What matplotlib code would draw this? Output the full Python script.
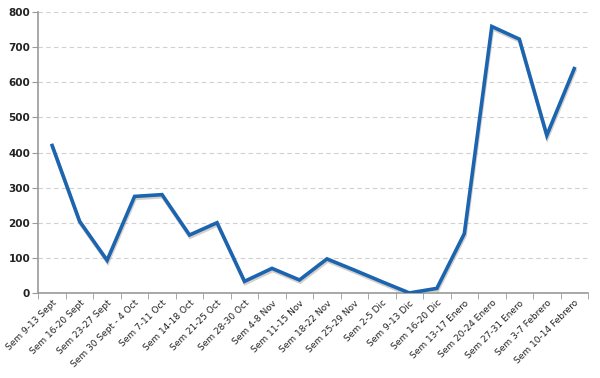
import matplotlib
matplotlib.use('Agg')
import matplotlib.pyplot as plt
import matplotlib.patheffects as pe
import numpy as np

semanas = ['Sem 9-13 Sept', 'Sem 16-20 Sept', 'Sem 23-27 Sept', 'Sem 30 Sept - 4 Oct',
           'Sem 7-11 Oct', 'Sem 14-18 Oct', 'Sem 21-25 Oct', 'Sem 28-30 Oct',
           'Sem 4-8 Nov', 'Sem 11-15 Nov', 'Sem 18-22 Nov', 'Sem 25-29 Nov',
           'Sem 2-5 Dic', 'Sem 9-13 Dic', 'Sem 16-20 Dic', 'Sem 13-17 Enero',
           'Sem 20-24 Enero', 'Sem 27-31 Enero', 'Sem 3-7 Febrero', 'Sem 10-14 Febrero']
valores = [420, 204, 93, 275, 280, 165, 200, 33, 70, 37, 97, 65, 32, 0, 13, 169,
           759, 723, 449, 639]
y_ticks = [0, 100, 200, 300, 400, 500, 600, 700, 800]

fig = plt.figure(figsize=(6, 3.78), dpi=100)
ax = fig.add_axes([0.064, 0.225, 0.916, 0.743])

x = np.arange(len(semanas))
ax.plot(x, valores, color='#1a64b0', linewidth=2.6, solid_joinstyle='miter',
        path_effects=[pe.SimpleLineShadow(offset=(0.5, -1.5), shadow_color='#b8b0a8', alpha=0.6),
                      pe.Normal()], zorder=3)

ax.set_xlim(-0.5, len(semanas) - 0.5)
ax.set_ylim(0, 800)
ax.set_yticks(y_ticks)
ax.set_yticklabels([str(v) for v in y_ticks], fontsize=7.5, fontweight='bold', color='#222222')
ax.yaxis.grid(True, linestyle=(0, (4, 3)), color='#d0d0d0', linewidth=0.8)
ax.set_axisbelow(True)

ax.set_xticks(x)
ax.set_xticklabels(semanas, rotation=45, ha='right', rotation_mode='anchor', fontsize=6.5,
                   color='#222222')
ax.tick_params(axis='x', length=0, pad=4)
ax.set_xticks(np.arange(-0.5, len(semanas), 1), minor=True)
ax.tick_params(axis='x', which='minor', length=4, direction='out', color='#999999')
ax.tick_params(axis='y', length=4, direction='out', color='#999999', pad=2)

for s in ['top', 'right']:
    ax.spines[s].set_visible(False)
for s in ['left', 'bottom']:
    ax.spines[s].set_color('#999999')
    ax.spines[s].set_linewidth(1.2)

fig.savefig('out.png', dpi=100)
